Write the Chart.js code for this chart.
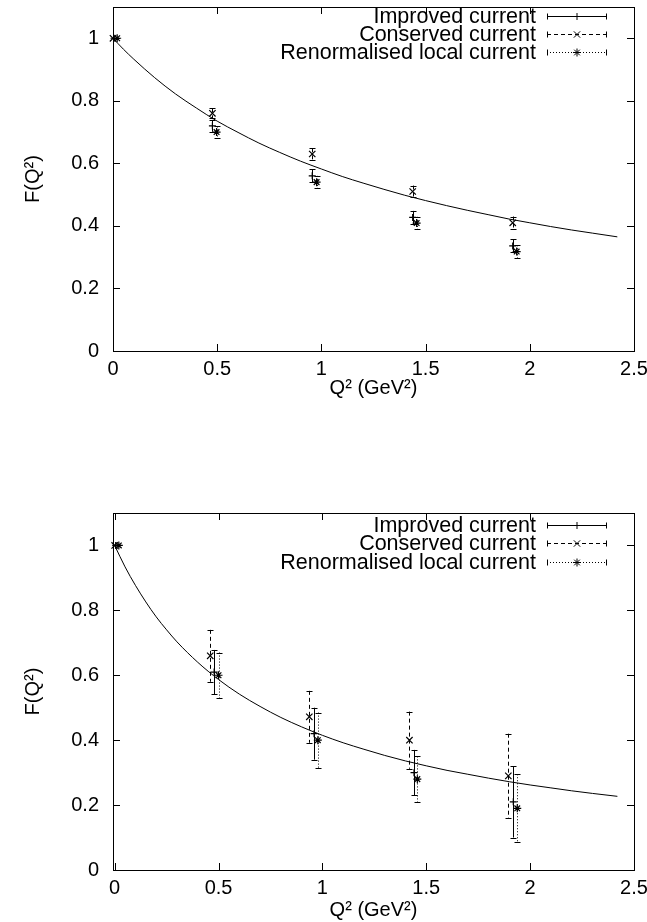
<!DOCTYPE html>
<html><head><meta charset="utf-8">
<script src="https://cdn.jsdelivr.net/npm/chart.js@4/dist/chart.umd.min.js"></script>
<style>
html,body{margin:0;padding:0;background:#fff;overflow:hidden;width:647px;height:922px;}
canvas{position:absolute;left:0;}
#c1{top:0}
#c2{top:506px}
</style></head><body>
<canvas id="c1" width="647" height="420"></canvas>
<canvas id="c2" width="647" height="416"></canvas>
<script>
// ---- axis ticks ----
const xTicks = [0, 0.5, 1, 1.5, 2, 2.5];
const yTicks = [0, 0.2, 0.4, 0.6, 0.8, 1];
const seriesNames = ['Improved current', 'Conserved current', 'Renormalised local current'];
const xTitle = 'Q\u00B2 (GeV\u00B2)';
const yTitle = 'F(Q\u00B2)';

// ---- top panel ----
const topImprovedQ2  = [0.005, 0.477, 0.956, 1.438, 1.918];
const topImprovedF   = [1.0, 0.72, 0.56, 0.427, 0.336];
const topImprovedErr = [0, 0.019, 0.021, 0.021, 0.021];
const topConservedQ2  = [0.0, 0.477, 0.956, 1.438, 1.918];
const topConservedF   = [1.0, 0.76, 0.63, 0.51, 0.41];
const topConservedErr = [0, 0.016, 0.018, 0.019, 0.02];
const topLocalQ2  = [0.02, 0.497, 0.977, 1.457, 1.937];
const topLocalF   = [1.0, 0.70, 0.54, 0.409, 0.318];
const topLocalErr = [0, 0.018, 0.02, 0.02, 0.02];
const topFitQ2 = [0, 0.05, 0.1, 0.2, 0.3, 0.4, 0.5, 0.6, 0.7, 0.8, 0.9, 1.0, 1.1, 1.2, 1.3, 1.4, 1.5, 1.6, 1.7, 1.8, 1.9, 2.0, 2.1, 2.2, 2.3, 2.42];
const topFitF  = [1.0, 0.965, 0.933, 0.874, 0.822, 0.777, 0.735, 0.699, 0.665, 0.635, 0.607, 0.582, 0.558, 0.537, 0.517, 0.498, 0.481, 0.465, 0.450, 0.436, 0.422, 0.410, 0.398, 0.387, 0.377, 0.365];

// ---- bottom panel ----
const botImprovedQ2  = [0.005, 0.479, 0.96, 1.441, 1.919];
const botImprovedF   = [1.0, 0.61, 0.42, 0.30, 0.21];
const botImprovedErr = [0, 0.068, 0.08, 0.07, 0.11];
const botConservedQ2  = [0.0, 0.46, 0.937, 1.419, 1.895];
const botConservedF   = [1.0, 0.66, 0.472, 0.40, 0.29];
const botConservedErr = [0, 0.08, 0.08, 0.088, 0.13];
const botLocalQ2  = [0.02, 0.50, 0.978, 1.457, 1.938];
const botLocalF   = [1.0, 0.60, 0.40, 0.28, 0.19];
const botLocalErr = [0, 0.07, 0.085, 0.07, 0.105];
const botFitQ2 = [0, 0.05, 0.1, 0.15, 0.2, 0.25, 0.3, 0.4, 0.5, 0.6, 0.7, 0.8, 0.9, 1.0, 1.1, 1.2, 1.3, 1.4, 1.5, 1.6, 1.7, 1.8, 1.9, 2.0, 2.1, 2.2, 2.3, 2.42];
const botFitF  = [1.0, 0.934, 0.877, 0.826, 0.780, 0.740, 0.703, 0.640, 0.587, 0.542, 0.504, 0.470, 0.441, 0.415, 0.392, 0.372, 0.353, 0.336, 0.321, 0.307, 0.295, 0.283, 0.272, 0.262, 0.253, 0.244, 0.236, 0.227];

const FAMILY = "'Liberation Sans', Arial, sans-serif";
const FONT = {family: FAMILY, size: 20};
const styles = [
  {pointStyle: 'cross', dash: [], radius: 3.5},
  {pointStyle: 'crossRot', dash: [4, 3], radius: 4.5},
  {pointStyle: 'star', dash: [1, 2], radius: 4}
];

function pts(xs, ys) { return xs.map((x, i) => ({x: x, y: ys[i]})); }
function noPad(s) { s.paddingTop = 0; s.paddingBottom = 0; s.paddingLeft = 0; s.paddingRight = 0; }

const framePlugin = {
  id: 'frame',
  beforeDatasetsDraw(chart) {
    const {ctx, chartArea: a, scales: {x, y}} = chart;
    ctx.save();
    ctx.strokeStyle = '#000';
    ctx.lineWidth = 1;
    ctx.setLineDash([]);
    ctx.beginPath();
    xTicks.forEach(v => {
      const px = Math.round(x.getPixelForValue(v)) + 0.5;
      ctx.moveTo(px, a.bottom); ctx.lineTo(px, a.bottom - 7);
      ctx.moveTo(px, a.top); ctx.lineTo(px, a.top + 7);
    });
    yTicks.forEach(v => {
      const py = Math.round(y.getPixelForValue(v)) + 0.5;
      ctx.moveTo(a.left, py); ctx.lineTo(a.left + 7, py);
      ctx.moveTo(a.right, py); ctx.lineTo(a.right - 7, py);
    });
    ctx.stroke();
    ctx.strokeRect(Math.round(a.left) + 0.5, Math.round(a.top) + 0.5, Math.round(a.right - a.left), Math.round(a.bottom - a.top));
    ctx.restore();
  }
};

const errorPlugin = {
  id: 'errbars',
  afterDatasetsDraw(chart) {
    const {ctx, scales: {x, y}, chartArea: a} = chart;
    ctx.save();
    ctx.strokeStyle = '#000';
    ctx.lineWidth = 1;
    chart.data.datasets.forEach(ds => {
      if (!ds.errors) return;
      ds.data.forEach((p, i) => {
        const e = ds.errors[i];
        if (!e) return;
        const px = Math.round(x.getPixelForValue(p.x)) + 0.5;
        const y1 = y.getPixelForValue(p.y + e);
        const y2 = y.getPixelForValue(p.y - e);
        ctx.setLineDash(ds.errDash);
        ctx.beginPath();
        ctx.moveTo(px, y1); ctx.lineTo(px, y2);
        ctx.stroke();
        ctx.setLineDash([]);
        ctx.beginPath();
        ctx.moveTo(px - 3, Math.round(y1) + 0.5); ctx.lineTo(px + 3, Math.round(y1) + 0.5);
        ctx.moveTo(px - 3, Math.round(y2) + 0.5); ctx.lineTo(px + 3, Math.round(y2) + 0.5);
        ctx.stroke();
      });
    });
    // key in gnuplot style: text right-aligned, sample with end caps
    const offs = chart.options.keyOffsets;
    const textRight = 536, s0 = 547, s1 = 607, sm = 577;
    ctx.font = "21.5px " + FAMILY;
    ctx.fillStyle = '#000';
    ctx.textAlign = 'right';
    ctx.textBaseline = 'middle';
    seriesNames.forEach((name, i) => {
      const yy = Math.round(a.top + offs[i]) + 0.5;
      ctx.setLineDash([]);
      ctx.fillText(name, textRight, yy + 1);
      ctx.setLineDash(styles[i].dash);
      ctx.beginPath();
      ctx.moveTo(s0, yy); ctx.lineTo(s1, yy);
      ctx.stroke();
      ctx.setLineDash([]);
      ctx.beginPath();
      ctx.moveTo(s0 + 0.5, yy - 3); ctx.lineTo(s0 + 0.5, yy + 3);
      ctx.moveTo(s1 - 0.5, yy - 3); ctx.lineTo(s1 - 0.5, yy + 3);
      ctx.stroke();
      Chart.helpers.drawPoint(ctx, {pointStyle: styles[i].pointStyle, radius: styles[i].radius, borderWidth: 1, rotation: 0}, sm, yy);
    });
    ctx.restore();
  }
};

function makeChart(id, xMin, sets, fitX, fitY, xAxisH, titlePad, keyOffsets) {
  const datasets = [{
    type: 'line', data: pts(fitX, fitY), borderColor: '#000', borderWidth: 1,
    pointRadius: 0, cubicInterpolationMode: 'monotone', fill: false, clip: false
  }];
  sets.forEach((s, i) => {
    datasets.push({
      type: 'scatter', label: seriesNames[i], data: pts(s[0], s[1]), errors: s[2], errDash: styles[i].dash,
      pointStyle: styles[i].pointStyle, pointRadius: styles[i].radius, borderColor: '#000', backgroundColor: '#000',
      pointBorderWidth: 1.2, showLine: false, clip: false
    });
  });
  return new Chart(document.getElementById(id), {
    data: {datasets},
    options: {
      keyOffsets: keyOffsets,
      responsive: false, animation: false, devicePixelRatio: 1,
      layout: {padding: {top: 7, right: 13, left: 0, bottom: 0}, autoPadding: false},
      plugins: {legend: {display: false}, tooltip: {enabled: false}},
      scales: {
        x: {
          type: 'linear', min: xMin, max: 2.5,
          afterFit(s) { s.height = xAxisH; noPad(s); },
          afterBuildTicks(s) { s.ticks = xTicks.map(v => ({value: v})); },
          grid: {display: false, drawTicks: false}, border: {display: false},
          ticks: {padding: 6, font: FONT, color: '#000', maxRotation: 0, autoSkip: false, callback: v => String(v)},
          title: {display: true, text: xTitle, font: FONT, color: '#000', padding: {top: 0, bottom: titlePad}}
        },
        y: {
          type: 'linear', min: 0, max: 1.1,
          afterFit(s) { s.width = 113; noPad(s); },
          afterBuildTicks(s) { s.ticks = yTicks.map(v => ({value: v})); },
          grid: {display: false, drawTicks: false}, border: {display: false},
          ticks: {padding: 14, font: FONT, color: '#000', autoSkip: false, callback: v => String(v)},
          title: {display: true, text: yTitle, font: FONT, color: '#000', padding: {top: 21, bottom: 0}}
        }
      }
    },
    plugins: [framePlugin, errorPlugin]
  });
}

// top panel: plot box 7..351 ; bottom panel: plot box 513..870
makeChart('c1', 0, [
  [topImprovedQ2, topImprovedF, topImprovedErr],
  [topConservedQ2, topConservedF, topConservedErr],
  [topLocalQ2, topLocalF, topLocalErr]
], topFitQ2, topFitF, 69, 20, [8.5, 26.5, 44.5]);

makeChart('c2', -0.008, [
  [botImprovedQ2, botImprovedF, botImprovedErr],
  [botConservedQ2, botConservedF, botConservedErr],
  [botLocalQ2, botLocalF, botLocalErr]
], botFitQ2, botFitF, 52, 0, [12, 30, 48.5]);
</script>
</body></html>
